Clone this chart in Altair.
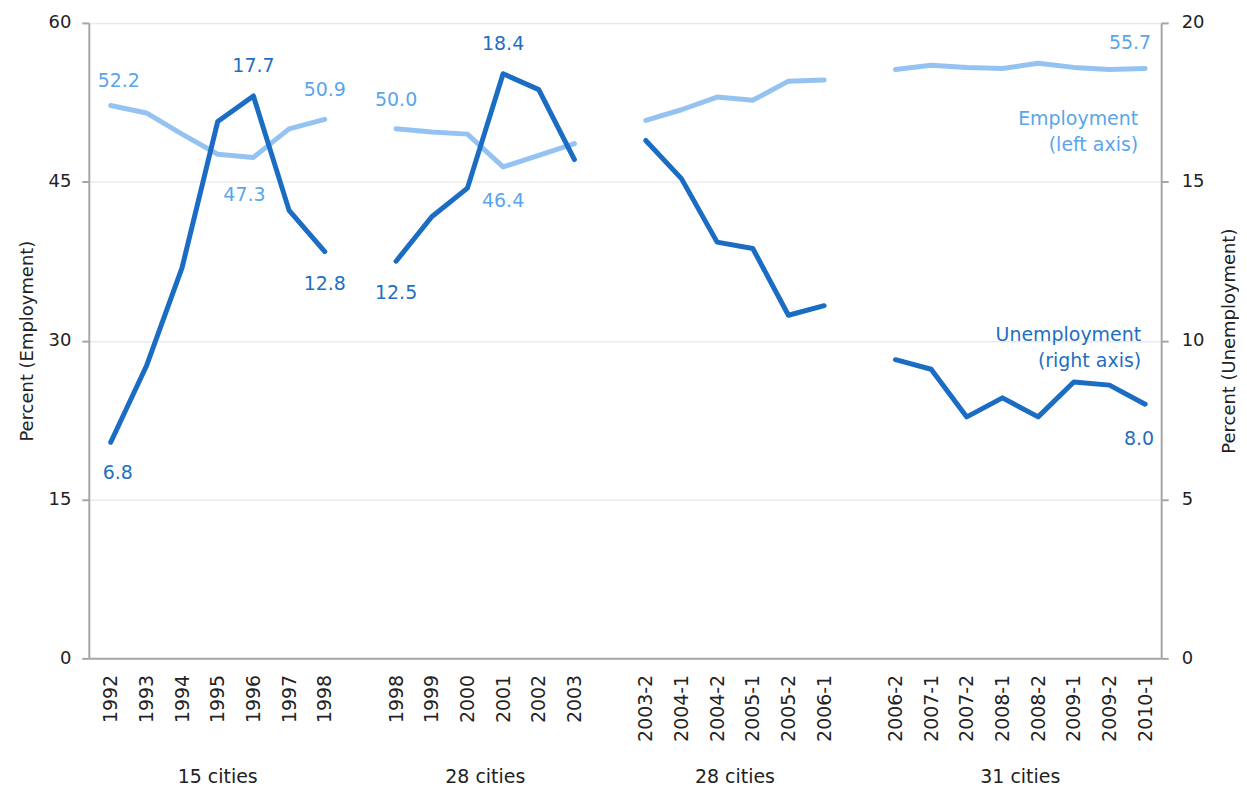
import altair as alt
import pandas as pd

# ---- data ----
group_names = ["15 cities", "28 cities", "28 cities", "31 cities"]
group_sizes = [7, 6, 6, 8]
periods = ["1992", "1993", "1994", "1995", "1996", "1997", "1998",
           "1998", "1999", "2000", "2001", "2002", "2003",
           "2003-2", "2004-1", "2004-2", "2005-1", "2005-2", "2006-1",
           "2006-2", "2007-1", "2007-2", "2008-1", "2008-2", "2009-1", "2009-2", "2010-1"]
employment = [52.2, 51.5, 49.5, 47.6, 47.3, 50.0, 50.9,
              50.0, 49.7, 49.5, 46.4, 47.5, 48.6,
              50.8, 51.8, 53.0, 52.7, 54.5, 54.6,
              55.6, 56.0, 55.8, 55.7, 56.2, 55.8, 55.6, 55.7]
unemployment = [6.8, 9.2, 12.3, 16.9, 17.7, 14.1, 12.8,
                12.5, 13.9, 14.8, 18.4, 17.9, 15.7,
                16.3, 15.1, 13.1, 12.9, 10.8, 11.1,
                9.4, 9.1, 7.6, 8.2, 7.6, 8.7, 8.6, 8.0]

# build table: one blank slot between survey groups
rows = []
i = 0
for g, (name, size) in enumerate(zip(group_names, group_sizes)):
    for k in range(size):
        rows.append(dict(row=i, pos=i + g, grp=g, grp_name=name, period=periods[i],
                         emp=employment[i], unemp=unemployment[i]))
        i += 1
df = pd.DataFrame(rows)

n_slots = int(df["pos"].max()) + 1
slot_labels = [""] * n_slots
for p, lab in zip(df["pos"], df["period"]):
    slot_labels[int(p)] = lab
label_expr = "[" + ",".join("'" + s + "'" for s in slot_labels) + "][datum.value]"

EMP_LINE = "#95C3F1"
EMP_TEXT = "#5AA5EC"
UN_LINE = "#1A6DC2"
UN_TEXT = "#1F6FC1"
FONT = "DejaVu Sans"
FS = 19      # in-plot annotations, x labels, group labels
FSY = 18     # y axis labels and titles
X_DOMAIN = [-0.615, 29.45]

x_axis = alt.Axis(values=[float(v) for v in df["pos"]], labelExpr=label_expr, labelAngle=270,
                  labelAlign="right", labelBaseline="middle", ticks=False,
                  labelPadding=16, grid=False, title=None,
                  domainColor="#A6A6A6", domainWidth=2,
                  labelFont=FONT, labelFontSize=FS, labelColor="#222222")
x_scale = alt.Scale(domain=X_DOMAIN, nice=False, zero=False)
x_enc = alt.X("pos:Q", scale=x_scale, axis=x_axis)

emp_axis = alt.Axis(values=[0, 15, 30, 45, 60], title="Percent (Employment)",
                    orient="left", grid=True, gridColor="#EBEBEB", gridWidth=1.5,
                    domainColor="#A6A6A6", domainWidth=2, tickColor="#A6A6A6",
                    tickSize=7, tickWidth=2, labelPadding=11, titlePadding=12,
                    labelFont=FONT, labelFontSize=FSY, labelColor="#222222",
                    titleFont=FONT, titleFontSize=FSY, titleFontWeight="normal",
                    titleColor="#222222")
y_emp = alt.Y("emp:Q", scale=alt.Scale(domain=[0, 60], nice=False, zero=True), axis=emp_axis)

un_axis = alt.Axis(values=[0, 5, 10, 15, 20], title="Percent (Unemployment)",
                   orient="right", grid=False,
                   domainColor="#A6A6A6", domainWidth=2, tickColor="#A6A6A6",
                   tickSize=7, tickWidth=2, labelPadding=13, titlePadding=17,
                   titleAngle=270, titleBaseline="top",
                   labelFont=FONT, labelFontSize=FSY, labelColor="#222222",
                   titleFont=FONT, titleFontSize=FSY, titleFontWeight="normal",
                   titleColor="#222222")
y_un = alt.Y("unemp:Q", scale=alt.Scale(domain=[0, 20], nice=False, zero=True), axis=un_axis)

base = alt.Chart(df)

def txt(color, **kw):
    return dict(font=FONT, fontSize=FS, color=color, baseline="middle", **kw)

# ---- employment (left axis) ----
emp_line = base.mark_line(color=EMP_LINE, strokeWidth=5, strokeCap="round",
                          strokeJoin="round").encode(x=x_enc, y=y_emp, detail="grp:N")
emp_above = base.transform_filter("indexof([6, 7], datum.row) >= 0").mark_text(
    **txt(EMP_TEXT, align="center", dy=-29)).encode(
    x=x_enc, y=y_emp, text=alt.Text("emp:Q", format=".1f"))
emp_first = base.transform_filter("datum.row == 0").mark_text(
    **txt(EMP_TEXT, align="center", dx=8, dy=-25)).encode(
    x=x_enc, y=y_emp, text=alt.Text("emp:Q", format=".1f"))
emp_last = base.transform_filter("datum.row == 26").mark_text(
    **txt(EMP_TEXT, align="right", dx=6, dy=-26)).encode(
    x=x_enc, y=y_emp, text=alt.Text("emp:Q", format=".1f"))
emp_below96 = base.transform_filter("datum.row == 4").mark_text(
    **txt(EMP_TEXT, align="center", dx=-9, dy=38)).encode(
    x=x_enc, y=y_emp, text=alt.Text("emp:Q", format=".1f"))
emp_below01 = base.transform_filter("datum.row == 10").mark_text(
    **txt(EMP_TEXT, align="center", dy=34)).encode(
    x=x_enc, y=y_emp, text=alt.Text("emp:Q", format=".1f"))
emp_note = base.transform_filter("datum.row == 26").mark_text(
    **txt(EMP_TEXT, align="right", dx=-7, dy=51, lineBreak="\n", lineHeight=26)).encode(
    x=x_enc, y=y_emp, text=alt.value("Employment\n(left axis)"))

left = alt.layer(emp_line, emp_above, emp_first, emp_last, emp_below96, emp_below01, emp_note)

# ---- unemployment (right axis) ----
un_line = base.mark_line(color=UN_LINE, strokeWidth=5, strokeCap="round",
                         strokeJoin="round").encode(x=x_enc, y=y_un, detail="grp:N")
un_above = base.transform_filter("indexof([4, 10], datum.row) >= 0").mark_text(
    **txt(UN_TEXT, align="center", dy=-30)).encode(
    x=x_enc, y=y_un, text=alt.Text("unemp:Q", format=".1f"))
un_below = base.transform_filter("indexof([6, 7], datum.row) >= 0").mark_text(
    **txt(UN_TEXT, align="center", dy=32)).encode(
    x=x_enc, y=y_un, text=alt.Text("unemp:Q", format=".1f"))
un_first = base.transform_filter("datum.row == 0").mark_text(
    **txt(UN_TEXT, align="center", dx=7, dy=31)).encode(
    x=x_enc, y=y_un, text=alt.Text("unemp:Q", format=".1f"))
un_last = base.transform_filter("datum.row == 26").mark_text(
    **txt(UN_TEXT, align="right", dx=9, dy=35)).encode(
    x=x_enc, y=y_un, text=alt.Text("unemp:Q", format=".1f"))
un_note = base.transform_filter("datum.row == 26").mark_text(
    **txt(UN_TEXT, align="right", dx=-4, dy=-69, lineBreak="\n", lineHeight=26)).encode(
    x=x_enc, y=y_un, text=alt.value("Unemployment\n(right axis)"))

right = alt.layer(un_line, un_above, un_below, un_first, un_last, un_note)

# ---- survey group labels under the axis ----
groups = base.transform_aggregate(center="mean(pos)", groupby=["grp", "grp_name"]).transform_calculate(
    pos="datum.center").mark_text(
    font=FONT, fontSize=FS, color="#222222", align="center", baseline="middle").encode(
    x=x_enc, y=alt.value(756), text="grp_name:N")

chart = alt.layer(left, right, groups).resolve_scale(y="independent").properties(
    width=1075, height=637,
    padding={"left": 10, "top": 5, "right": 0, "bottom": 0},
).configure_view(stroke=None)

chart.save("out.html", embed_options={"renderer": "svg", "actions": False})
